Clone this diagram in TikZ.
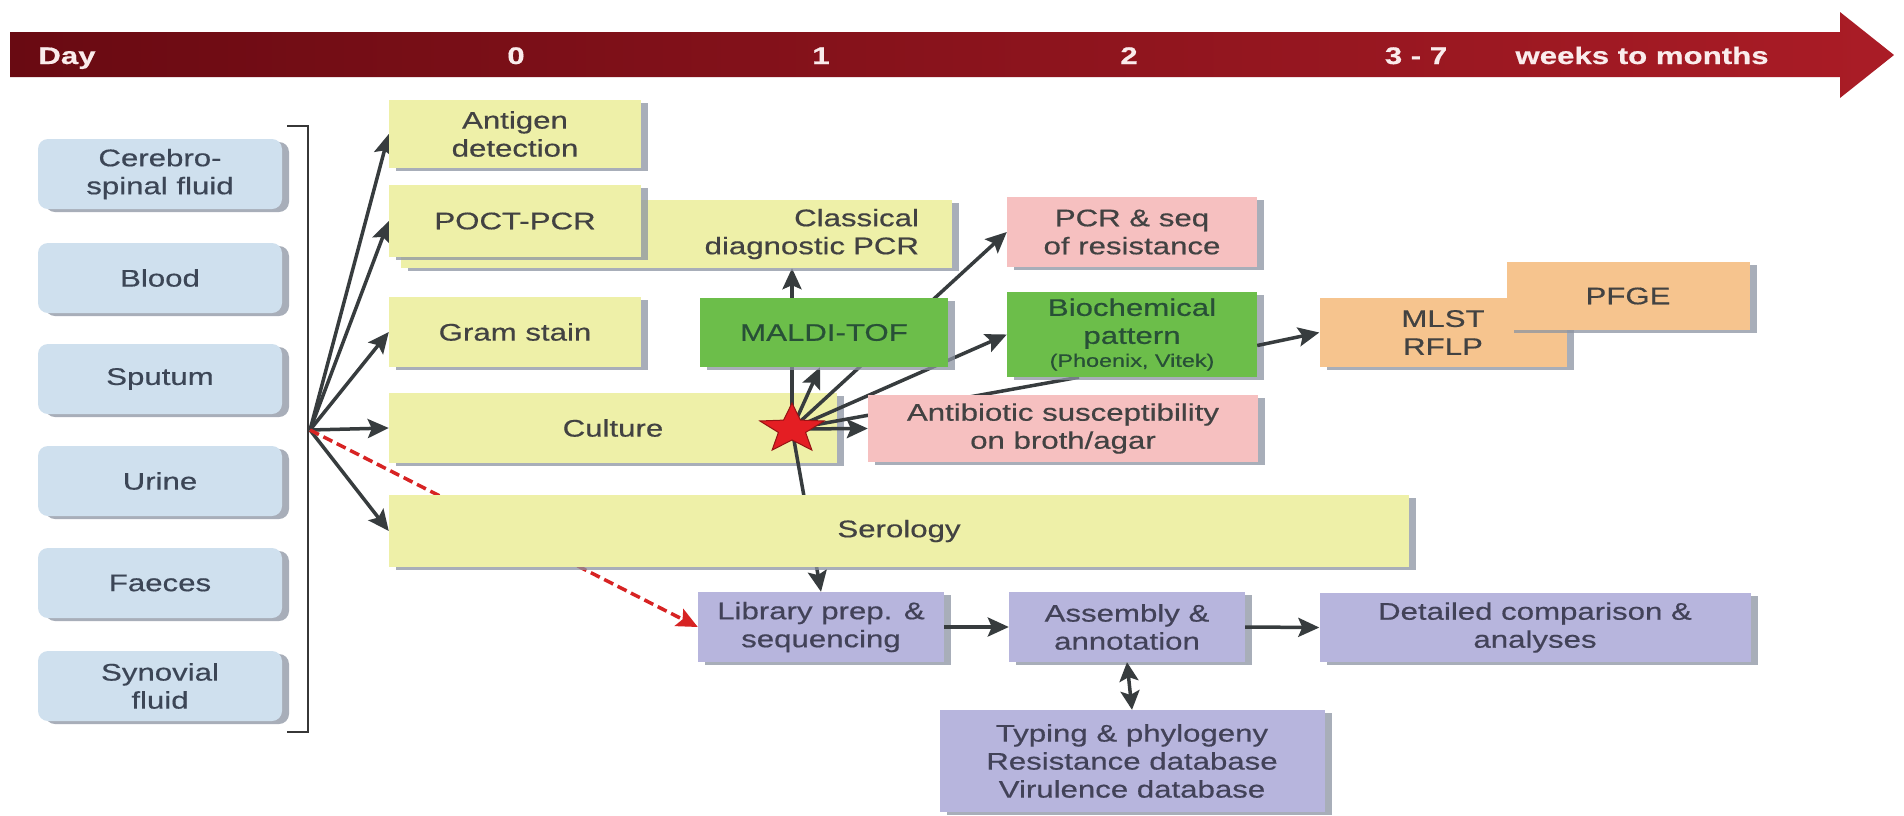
\documentclass[tikz,border=0pt]{standalone}
\usepackage{fontspec}
\setmainfont[FakeStretch=1.3,FakeBold=0.5]{Liberation Sans}
\usetikzlibrary{arrows.meta,shadows,calc}
\pgfdeclarelayer{bgl}
\pgfdeclarelayer{under}
\pgfdeclarelayer{lines}
\pgfsetlayers{bgl,under,lines,main}
\definecolor{ylw}{RGB}{238,240,168}
\definecolor{grn}{RGB}{108,190,74}
\definecolor{pnk}{RGB}{246,192,192}
\definecolor{org}{RGB}{246,196,142}
\definecolor{lav}{RGB}{183,181,221}
\definecolor{blu}{RGB}{207,224,238}
\definecolor{shd}{RGB}{140,148,162}
\definecolor{txt}{RGB}{66,66,66}
\definecolor{gtxt}{RGB}{40,80,55}
\definecolor{ltxt}{RGB}{66,66,88}
\definecolor{btxt}{RGB}{60,70,86}
\definecolor{arr}{RGB}{55,60,62}
\definecolor{rd}{RGB}{215,35,35}
\definecolor{barL}{RGB}{105,10,18}
\definecolor{barR}{RGB}{170,28,38}
\definecolor{tltxt}{RGB}{250,236,236}
\definecolor{strf}{RGB}{228,30,35}
\definecolor{strd}{RGB}{150,20,20}
\newcommand\bxfont{\fontsize{24}{28}\selectfont}
\newcommand\smfont{\fontsize{18}{20}\selectfont}
\newcommand\tlfont{\fontsize{24}{28}\selectfont\bfseries}
\begin{document}
\begin{tikzpicture}[x=1pt,y=-1pt,
  box/.style={rectangle, inner sep=0pt, align=center, font=\bxfont, text=txt,
    drop shadow={shadow xshift=7pt,shadow yshift=-3pt,fill=shd,opacity=.75}},
  sz/.style 2 args={minimum width=#1pt, minimum height=#2pt},
  ybox/.style={box, fill=ylw},
  gbox/.style={box, fill=grn, text=gtxt},
  pbox/.style={box, fill=pnk},
  obox/.style={box, fill=org},
  lbox/.style={box, fill=lav, text=ltxt},
  sbox/.style={box, fill=blu, text=btxt, rounded corners=10pt, sz={244}{70}},
  tip/.style={-{Stealth[length=21pt,width=19pt,inset=4pt]}},
  conn/.style={draw=arr, line width=3.5pt, tip},
  dconn/.style={draw=arr, line width=3.5pt, {Stealth[length=19pt,width=19pt,inset=4pt]}-{Stealth[length=19pt,width=19pt,inset=4pt]}},
  plain/.style={draw=arr, line width=3.5pt},
  reddash/.style={draw=rd, line width=3.5pt, dash pattern=on 10pt off 5pt, -{Stealth[length=21pt,width=19pt,inset=4pt,fill=rd]}},
  tl/.style={font=\tlfont, text=tltxt, inner sep=0pt, anchor=base}
]
\useasboundingbox (0,0) rectangle (1904,815);
\begin{pgfonlayer}{bgl}
\fill[white] (0,0) rectangle (1904,815);
\end{pgfonlayer}

% timeline
\shade[left color=barL, right color=barR]
  (10,32) -- (1840,32) -- (1840,12) -- (1894,55) -- (1840,98) -- (1840,77) -- (10,77) -- cycle;
\node[tl] (tday) at (67,64) {Day};
\node[tl] (t0) at (516,64) {0};
\node[tl] (t1) at (821,64) {1};
\node[tl] (t2) at (1129,64) {2};
\node[tl] (t37) at (1416,64) {3 - 7};
\node[tl] (twm) at (1642,64) {weeks to months};

% specimens
\node[sbox] (csf) at (160,174) {Cerebro-\\spinal fluid};
\node[sbox] (blood) at (160,278) {Blood};
\node[sbox] (sput) at (160,379) {Sputum};
\node[sbox] (urine) at (160,481) {Urine};
\node[sbox] (faec) at (160,583) {Faeces};
\node[sbox] (syn) at (160,686) {Synovial\\fluid};
\draw[draw={rgb,255:red,55;green,55;blue,55}, line width=2.5pt]
  (287,126) -- (308,126) -- (308,732) -- (287,732);
\coordinate (H) at (310,430);
\coordinate (S) at (792,429);

% boxes
\begin{pgfonlayer}{under}
\node[ybox, sz={448}{70}] (cult) at (613,428) {Culture};
\end{pgfonlayer}
\node[ybox, sz={252}{68}] (ant) at (515,134) {Antigen\\detection};
\node[ybox, minimum height=68pt, text width=485pt, inner xsep=33pt, align=right] (cpcr) at (676.5,234) {Classical\\diagnostic PCR};
\node[ybox, sz={252}{72}] (poct) at (515,221) {POCT-PCR};
\node[ybox, sz={252}{70}] (gram) at (515,332) {Gram stain};
\node[ybox, sz={1020}{72}] (sero) at (899,531) {Serology};
\node[gbox, sz={248}{69}] (maldi) at (824,332.5) {MALDI-TOF};
\node[pbox, sz={250}{70}] (pcrseq) at (1132,232) {PCR \& seq\\of resistance};
\node[gbox, sz={250}{85}] (bio) at (1132,334.5) {Biochemical\\pattern\\[-5pt]{\smfont (Phoenix, Vitek)}};
\node[pbox, sz={390}{67}] (antib) at (1063,428.5) {Antibiotic susceptibility\\on broth/agar};
\node[obox, sz={247}{69}] (mlst) at (1443,332.5) {MLST\\RFLP};
\node[obox, sz={243}{68}] (pfge) at (1628,296) {PFGE};
\node[lbox, sz={246}{70}] (lib) at (821,627) {Library prep. \&\\sequencing};
\node[lbox, sz={236}{70}] (asm) at (1127,627) {Assembly \&\\annotation};
\node[lbox, sz={431}{69}] (det) at (1535,627.5) {Detailed comparison \&\\analyses};
\node[lbox, sz={385}{102}] (typ) at (1132,761) {Typing \& phylogeny\\Resistance database\\Virulence database};

% connectors behind boxes
\begin{pgfonlayer}{lines}
\draw[conn] (H) -- (ant.west);
\draw[conn] (H) -- (poct.west);
\draw[conn] (H) -- (gram.west);
\draw[conn] (H) -- (cult.west);
\draw[conn] (H) -- (sero.west);
\draw[reddash] (H) -- (lib.west);
\draw[conn] (S) -- (S |- cpcr.south);
\draw[conn] (S) -- ([xshift=-4pt]maldi.south);
\draw[conn] (S) -- (pcrseq.west);
\draw[conn] (S) -- (bio.west);
\draw[plain] (S) -- ([xshift=-53pt]bio.south);
\draw[conn] (S) -- (antib.west);
\draw[conn] (S) -- (lib.north);
\end{pgfonlayer}
\draw[conn] ([yshift=-11pt]bio.east) -- (mlst.west);
\draw[conn] (lib.east) -- (asm.west);
\draw[conn] (asm.east) -- (det.west);
\draw[dconn] (asm.south) -- (typ.north);

% star
\begin{scope}[shift={(S)}, x=1.3pt, y=1pt]
\filldraw[fill=strf, draw=strd, line width=1pt]
  (90:26) -- (126:11) -- (162:26) -- (198:11) -- (234:26) -- (270:11)
  -- (306:26) -- (342:11) -- (18:26) -- (54:11) -- cycle;
\end{scope}
\end{tikzpicture}
\end{document}
